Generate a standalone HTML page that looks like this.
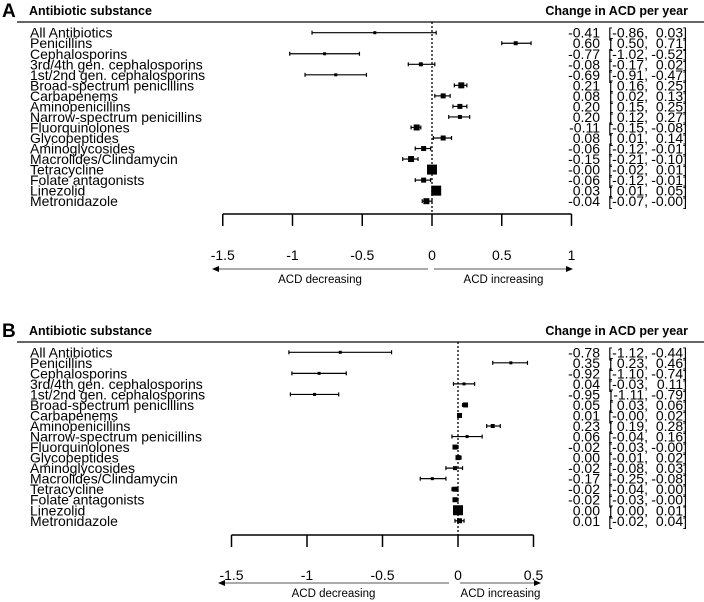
<!DOCTYPE html>
<html><head><meta charset="utf-8"><style>
html,body{margin:0;padding:0;background:#fff;width:704px;height:602px;overflow:hidden}
svg text{font-family:"Liberation Sans",sans-serif;fill:#000}
</style></head><body>
<svg id="chart" width="704" height="602" viewBox="0 0 704 602" xmlns="http://www.w3.org/2000/svg"></svg>
<script>
const categories = ["All Antibiotics","Penicillins","Cephalosporins","3rd/4th gen. cephalosporins","1st/2nd gen. cephalosporins","Broad-spectrum penicillins","Carbapenems","Aminopenicillins","Narrow-spectrum penicillins","Fluorquinolones","Glycopeptides","Aminoglycosides","Macrolides/Clindamycin","Tetracycline","Folate antagonists","Linezolid","Metronidazole"];
const estA = [-0.41,0.60,-0.77,-0.08,-0.69,0.21,0.08,0.20,0.20,-0.11,0.08,-0.06,-0.15,-0.00,-0.06,0.03,-0.04];
const loA  = [-0.86,0.50,-1.02,-0.17,-0.91,0.16,0.02,0.15,0.12,-0.15,0.01,-0.12,-0.21,-0.02,-0.12,0.01,-0.07];
const hiA  = [0.03,0.71,-0.52,0.02,-0.47,0.25,0.13,0.25,0.27,-0.08,0.14,-0.01,-0.10,0.01,-0.01,0.05,-0.00];
const wA   = [3,4,3,4,3,6,5,5,4,6,5,5,6,10,5,10,6];
const estB = [-0.78,0.35,-0.92,0.04,-0.95,0.05,0.01,0.23,0.06,-0.02,0.00,-0.02,-0.17,-0.02,-0.02,0.00,0.01];
const loB  = [-1.12,0.23,-1.10,-0.03,-1.11,0.03,-0.00,0.19,-0.04,-0.03,-0.01,-0.08,-0.25,-0.04,-0.03,0.00,-0.02];
const hiB  = [-0.44,0.46,-0.74,0.11,-0.79,0.06,0.02,0.28,0.16,-0.00,0.02,0.03,-0.08,0.00,-0.00,0.01,0.04];
const wB   = [3,3,3,3,3,5,5,4,3,5,5,4,3,5,5,10,5];
const ticksA = [-1.5,-1,-0.5,0,0.5,1];
const tickLabelsA = ["-1.5","-1","-0.5","0","0.5","1"];
const ticksB = [-1.5,-1,-0.5,0,0.5];
const tickLabelsB = ["-1.5","-1","-0.5","0","0.5"];

const svg = document.getElementById('chart');
const NS = 'http://www.w3.org/2000/svg';
function mk(tag, attrs, parent){
  const e = document.createElementNS(NS, tag);
  for (const k in attrs) e.setAttribute(k, attrs[k]);
  (parent||svg).appendChild(e);
  return e;
}
function fmt(v){ const s = Math.abs(v).toFixed(2); return (v<0 || Object.is(v,-0) ? '-' : '') + s; }

function panel(cfg){
  const g = mk('g', {});
  
  
  const x = v => cfg.zero + v * cfg.scale;
  const y = i => cfg.row0 + i * 10.53;

  let t = mk('text', {x:2, y:cfg.hdr+2, 'font-size':19, 'font-weight':'bold'}, g); t.textContent = cfg.letter;
  
  
  t = mk('text', {x:29, y:cfg.hdr, 'font-size':12.5, 'font-weight':'bold'}, g); t.textContent = 'Antibiotic substance';
  
  
  t = mk('text', {x:688, y:cfg.hdr, 'font-size':12.5, 'font-weight':'bold', 'text-anchor':'end'}, g); t.textContent = 'Change in ACD per year';
  
  
  let l = mk('line', {x1:17, x2:704, y1:cfg.line, y2:cfg.line, stroke:'#333', 'stroke-width':1.6}, g);
  
  

  l = mk('line', {x1:x(0), x2:x(0), y1:cfg.line, y2:cfg.axisY, stroke:'#000', 'stroke-width':1.3, 'stroke-dasharray':'2,2'}, g);
  
  

  categories.forEach((c, i) => {
    const yy = y(i);
    let tx = mk('text', {x:30, y:yy+5, 'font-size':14}, g); tx.textContent = c;
    
    
    const ci = mk('g', {stroke:'#000', 'stroke-width':1.2}, g);
    
    
    mk('line', {x1:x(cfg.lo[i]), x2:x(cfg.hi[i]), y1:yy, y2:yy}, ci);
    mk('line', {x1:x(cfg.lo[i]), x2:x(cfg.lo[i]), y1:yy-2, y2:yy+2}, ci);
    mk('line', {x1:x(cfg.hi[i]), x2:x(cfg.hi[i]), y1:yy-2, y2:yy+2}, ci);
    const w = cfg.w[i];
    const r = mk('rect', {x:x(cfg.est[i])-w/2, y:yy-w/2, width:w, height:w, fill:'#000'}, g);
    
    
    tx = mk('text', {x:600, y:yy+5, 'font-size':14, 'text-anchor':'end'}, g); tx.textContent = fmt(cfg.est[i]);
    
    
    tx = mk('text', {x:648, y:yy+5, 'font-size':14, 'text-anchor':'end'}, g); tx.textContent = '[' + (cfg.lo[i]<0||Object.is(cfg.lo[i],-0)?'':'\u00a0') + fmt(cfg.lo[i]) + ',';
    
    
    tx = mk('text', {x:687, y:yy+5, 'font-size':14, 'text-anchor':'end'}, g); tx.textContent = fmt(cfg.hi[i]) + ']';
    
    
  });

  const ax = mk('g', {stroke:'#000', 'stroke-width':1.5}, g);
  
  
  mk('line', {x1:x(cfg.ticks[0]), x2:x(cfg.ticks[cfg.ticks.length-1]), y1:cfg.axisY, y2:cfg.axisY}, ax);
  cfg.ticks.forEach((v, k) => {
    mk('line', {x1:x(v), x2:x(v), y1:cfg.axisY, y2:cfg.axisY+12}, ax);
    const tl = mk('text', {x:x(v), y:cfg.tickLblY, 'font-size':14, 'text-anchor':'middle', stroke:'none'}, g);
    tl.textContent = cfg.tickLabels[k];
    
    
  });
  const ar = mk('g', {stroke:'#555', 'stroke-width':1}, g);
  
  
  const ay = cfg.arrowY;
  mk('line', {x1:cfg.arL[0]+6, x2:cfg.arL[1], y1:ay, y2:ay}, ar);
  mk('polygon', {points:`${cfg.arL[0]},${ay} ${cfg.arL[0]+7},${ay-3} ${cfg.arL[0]+7},${ay+3}`, fill:'#000', stroke:'none'}, ar);
  mk('line', {x1:cfg.arR[0], x2:cfg.arR[1]-6, y1:ay, y2:ay}, ar);
  mk('polygon', {points:`${cfg.arR[1]},${ay} ${cfg.arR[1]-7},${ay-3} ${cfg.arR[1]-7},${ay+3}`, fill:'#000', stroke:'none'}, ar);
  let at = mk('text', {x:(cfg.arL[0]+cfg.arL[1])/2, y:ay+14, 'font-size':11.5, 'text-anchor':'middle'}, g); at.textContent = 'ACD decreasing';
  
  
  at = mk('text', {x:(cfg.arR[0]+cfg.arR[1])/2, y:ay+14, 'font-size':11.5, 'text-anchor':'middle'}, g); at.textContent = 'ACD increasing';
  
  
}

panel({letter:'A', hdr:15, line:22, row0:32.7, zero:432, scale:139.5, est:estA, lo:loA, hi:hiA, w:wA,
  ticks:ticksA, tickLabels:tickLabelsA, axisY:214, tickLblY:260, arrowY:269, arL:[212,428], arR:[434,573]});
panel({letter:'B', hdr:335, line:342, row0:352.3, zero:458, scale:151, est:estB, lo:loB, hi:hiB, w:wB,
  ticks:ticksB, tickLabels:tickLabelsB, axisY:535, tickLblY:580, arrowY:583, arL:[218,449], arR:[460,541]});
</script>
</body></html>
